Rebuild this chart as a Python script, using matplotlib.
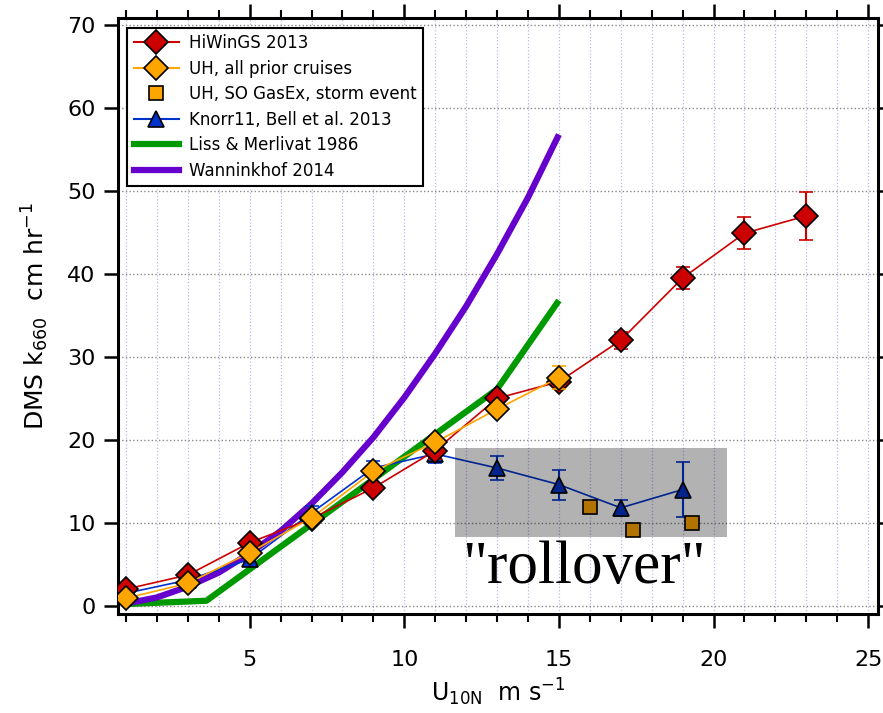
import matplotlib
matplotlib.use('Agg')
import matplotlib.pyplot as plt
from matplotlib.ticker import MultipleLocator
from matplotlib.patches import Rectangle
from matplotlib.lines import Line2D

# HiWinGS 2013
hi_u = [1, 3, 5, 7, 9, 11, 13, 15, 17, 19, 21, 23]
hi_k = [2.0, 3.7, 7.6, 10.5, 14.2, 18.7, 25.0, 27.0, 32.0, 39.5, 44.9, 47.0]
hi_err = [0.3, 0.3, 0.4, 0.4, 0.5, 1.0, 0.6, 0.8, 1.0, 1.3, 1.9, 2.9]

# UH, all prior cruises
uh_u = [1, 3, 5, 7, 9, 11, 13, 15]
uh_k = [0.9, 2.7, 6.4, 10.6, 16.2, 19.7, 23.7, 27.5]
uh_err = [0.2, 0.3, 0.4, 0.4, 0.6, 0.6, 0.6, 1.4]

# UH, SO GasEx storm event
storm_u = [16.0, 17.4, 19.3]
storm_k = [11.9, 9.1, 10.0]

# Knorr11, Bell et al. 2013
kn_u = [1, 3, 5, 7, 9, 11, 13, 15, 17, 19]
kn_k = [1.5, 3.1, 5.6, 11.2, 16.6, 18.3, 16.6, 14.6, 11.8, 14.0]
kn_err = [0.3, 0.4, 0.5, 0.8, 0.9, 1.1, 1.5, 1.8, 1.0, 3.3]

# Liss & Merlivat 1986 (vertices)
lm_u = [1, 3.6, 13, 15]
lm_k = [0.2, 0.6, 26.1, 36.8]

# Wanninkhof 2014
wan_u = [1, 2, 3, 4, 5, 6, 7, 8, 9, 10, 11, 12, 13, 14, 15]
wan_k = [0.25, 1.0, 2.3, 4.0, 6.3, 9.0, 12.3, 16.1, 20.3, 25.1, 30.4, 36.1, 42.4, 49.2, 56.8]

# kolory serii
c_hi, c_uh, c_kn = '#CC0000', '#FFA500', '#0033CC'
c_lm, c_wan = '#009900', '#6600CC'

plt.rcParams['mathtext.default'] = 'regular'

fig = plt.figure(figsize=(8.83, 7.13), dpi=100)
ax = fig.add_axes([118/883, 99/713, 760/883, 596/713])

# model curves
ax.plot(lm_u, lm_k, color=c_lm, lw=4.5, solid_capstyle='butt', zorder=3)
ax.plot(wan_u, wan_k, color=c_wan, lw=4.5, solid_capstyle='butt', zorder=3)

# data
eb = dict(lw=1.2, mec='black', mew=1.2, capsize=5, elinewidth=1.5, capthick=1.5)
ax.errorbar(kn_u, kn_k, yerr=kn_err, color=c_kn, marker='^', ms=12, mfc=c_kn, zorder=4, **eb)
ax.errorbar(uh_u, uh_k, yerr=uh_err, color=c_uh, marker='D', ms=12, mfc=c_uh, zorder=6, **eb)
ax.errorbar(hi_u, hi_k, yerr=hi_err, color=c_hi, marker='D', ms=12, mfc=c_hi, zorder=5, **eb)
ax.plot(storm_u, storm_k, ls='none', marker='s', ms=10, mfc=c_uh, mec='black', mew=1.2, zorder=5)

# shaded "rollover" region
ax.add_patch(Rectangle((11.63, 8.3), 8.81, 10.7, facecolor='black', alpha=0.3,
                       edgecolor='none', zorder=7))
ax.text(15.8, 4.5, '"rollover"', fontsize=44, family=['Liberation Serif', 'DejaVu Serif'],
        ha='center', va='center', zorder=8)

ax.set_xlim(0.74, 25.32)
ax.set_ylim(-1.0, 70.85)
ax.xaxis.set_major_locator(MultipleLocator(5))
ax.xaxis.set_minor_locator(MultipleLocator(1))
ax.yaxis.set_major_locator(MultipleLocator(10))

ax.grid(which='both', axis='x', color='#b8b8f0', ls=':', lw=0.9)
ax.grid(which='major', axis='y', color='#888888', ls=':', lw=1.0)
ax.set_axisbelow(True)

for s in ax.spines.values():
    s.set_linewidth(2.2)
ax.tick_params(which='major', direction='out', length=10, width=1.8, labelsize=16,
               top=True, right=True, pad=6)
ax.tick_params(which='minor', direction='out', length=6, width=1.5, top=True)
ax.tick_params(axis='x', pad=16)

ax.set_xlabel('U$_{10N}$  m s$^{-1}$', fontsize=17, labelpad=5)
ax.set_ylabel('DMS k$_{660}$  cm hr$^{-1}$', fontsize=18, labelpad=12)

# legenda bez wasow bledow
handles = [
    Line2D([], [], color=c_hi, lw=1.5, marker='D', ms=12, mfc=c_hi, mec='black', mew=1.2),
    Line2D([], [], color=c_uh, lw=1.5, marker='D', ms=12, mfc=c_uh, mec='black', mew=1.2),
    Line2D([], [], ls='none', marker='s', ms=10, mfc=c_uh, mec='black', mew=1.2),
    Line2D([], [], color=c_kn, lw=1.5, marker='^', ms=12, mfc=c_kn, mec='black', mew=1.2),
    Line2D([], [], color=c_lm, lw=4.5),
    Line2D([], [], color=c_wan, lw=4.5),
]
labels = ['HiWinGS 2013', 'UH, all prior cruises', 'UH, SO GasEx, storm event',
          'Knorr11, Bell et al. 2013', 'Liss & Merlivat 1986', 'Wanninkhof 2014']
leg = ax.legend(handles, labels, loc='upper left', bbox_to_anchor=(0.012, 0.984),
                fontsize=12, fancybox=False, framealpha=1, edgecolor='black',
                borderpad=0.4, labelspacing=0.45, handlelength=2.7, handletextpad=0.6,
                borderaxespad=0)
leg.get_frame().set_linewidth(1.5)
leg.set_zorder(10)

plt.savefig('out.png', dpi=100)
